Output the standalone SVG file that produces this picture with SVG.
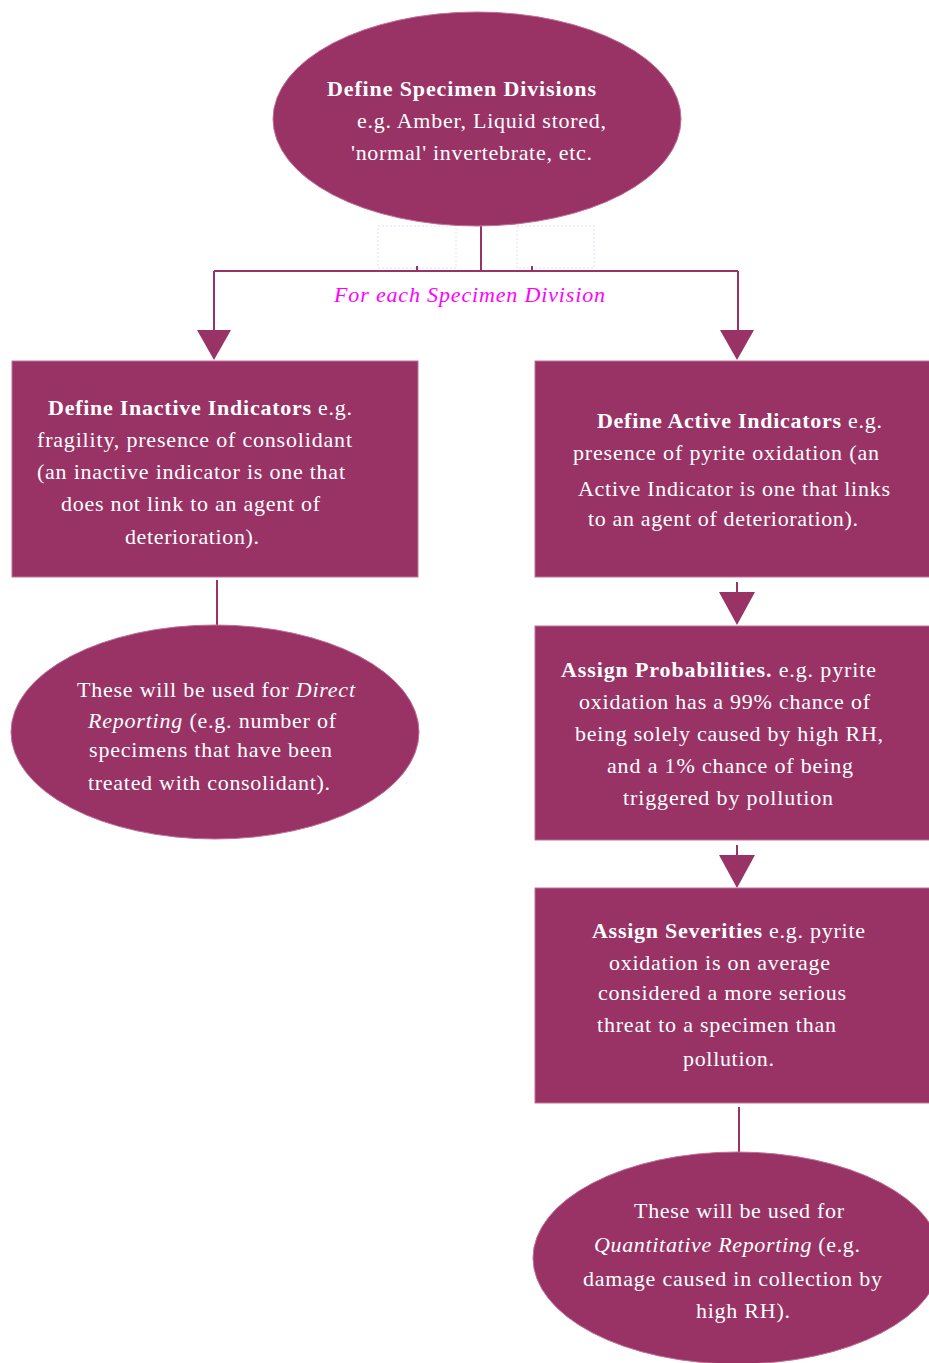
<svg xmlns="http://www.w3.org/2000/svg" width="929" height="1363" viewBox="0 0 929 1363">
<style>
.shape{fill:#993366;stroke:#c07095;stroke-width:1}
.t{font-family:"Liberation Serif","Times New Roman",serif;font-size:22px;fill:#ffffff}
.b{font-weight:bold}
.i{font-style:italic}
.lbl{font-family:"Liberation Serif","Times New Roman",serif;font-size:22px;font-style:italic;fill:#ff00ff}
.ln{stroke:#993366;stroke-width:2;fill:none}
.ah{fill:#993366}
.ghost{fill:none;stroke:#ebebf5;stroke-width:1.5;stroke-dasharray:2 2}
</style>
<rect width="929" height="1363" fill="#ffffff"/>
<g id="connectors">
<rect class="ghost" x="378" y="226" width="78" height="42"/>
<rect class="ghost" x="517" y="226" width="77" height="42"/>
<path class="ln" d="M481 226 V271 M214 271 H738 M214 271 V332 M738 271 V332 M417 266 V271 M532 266 V271"/>
<polygon class="ah" points="197,330 231,330 214,360"/>
<polygon class="ah" points="720,330 754,330 737,360"/>
<path class="ln" d="M217 580 V626"/>
<path class="ln" d="M737 582 V594"/>
<polygon class="ah" points="719,592 755,592 737,625"/>
<path class="ln" d="M737 845 V857"/>
<polygon class="ah" points="719,855 755,855 737,888"/>
<path class="ln" d="M739 1107 V1153"/>
<text class="lbl" x="334" y="302" textLength="271">For each Specimen Division</text>
</g>
<g id="define-divisions">
<ellipse class="shape" cx="477" cy="119" rx="204" ry="107"/>
<text class="t" x="327" y="96" textLength="269"><tspan class="b">Define Specimen Divisions</tspan></text>
<text class="t" x="357" y="128" textLength="249">e.g. Amber, Liquid stored,</text>
<text class="t" x="351" y="160" textLength="241">'normal' invertebrate, etc.</text>
</g>
<g id="inactive-indicators">
<rect class="shape" x="12" y="361" width="406" height="216"/>
<text class="t" x="48" y="415" textLength="304"><tspan class="b">Define Inactive Indicators</tspan> e.g.</text>
<text class="t" x="37" y="447" textLength="315">fragility, presence of consolidant</text>
<text class="t" x="37" y="479" textLength="308">(an inactive indicator is one that</text>
<text class="t" x="61" y="511" textLength="259">does not link to an agent of</text>
<text class="t" x="125" y="544" textLength="134">deterioration).</text>
</g>
<g id="active-indicators">
<rect class="shape" x="535" y="361" width="400" height="216"/>
<text class="t" x="597" y="428" textLength="285"><tspan class="b">Define Active Indicators</tspan> e.g.</text>
<text class="t" x="573" y="460" textLength="306">presence of pyrite oxidation (an</text>
<text class="t" x="578" y="496" textLength="312">Active Indicator is one that links</text>
<text class="t" x="588" y="526" textLength="270">to an agent of deterioration).</text>
</g>
<g id="direct-reporting">
<ellipse class="shape" cx="215" cy="732" rx="204" ry="107"/>
<text class="t" x="77" y="697" textLength="278">These will be used for <tspan class="i">Direct</tspan></text>
<text class="t" x="88" y="728" textLength="248"><tspan class="i">Reporting</tspan> (e.g. number of</text>
<text class="t" x="89" y="757" textLength="243">specimens that have been</text>
<text class="t" x="88" y="790" textLength="242">treated with consolidant).</text>
</g>
<g id="assign-probabilities">
<rect class="shape" x="535" y="626" width="400" height="214"/>
<text class="t" x="561" y="677" textLength="315"><tspan class="b">Assign Probabilities.</tspan>  e.g. pyrite</text>
<text class="t" x="579" y="709" textLength="291">oxidation has a 99% chance of</text>
<text class="t" x="575" y="741" textLength="308">being solely caused by high RH,</text>
<text class="t" x="607" y="773" textLength="246">and a 1% chance of being</text>
<text class="t" x="623" y="805" textLength="210">triggered by pollution</text>
</g>
<g id="assign-severities">
<rect class="shape" x="535" y="888" width="400" height="215"/>
<text class="t" x="592" y="938" textLength="273"><tspan class="b">Assign Severities</tspan> e.g. pyrite</text>
<text class="t" x="609" y="970" textLength="221">oxidation is on average</text>
<text class="t" x="598" y="1000" textLength="248">considered a more serious</text>
<text class="t" x="597" y="1032" textLength="239">threat to a specimen than</text>
<text class="t" x="683" y="1066" textLength="91">pollution.</text>
</g>
<g id="quantitative-reporting">
<ellipse class="shape" cx="737" cy="1258" rx="204" ry="106"/>
<text class="t" x="634" y="1218" textLength="210">These will be used for</text>
<text class="t" x="594" y="1252" textLength="266"><tspan class="i">Quantitative Reporting</tspan> (e.g.</text>
<text class="t" x="583" y="1286" textLength="299">damage caused in collection by</text>
<text class="t" x="696" y="1318" textLength="94">high RH).</text>
</g>
</svg>
